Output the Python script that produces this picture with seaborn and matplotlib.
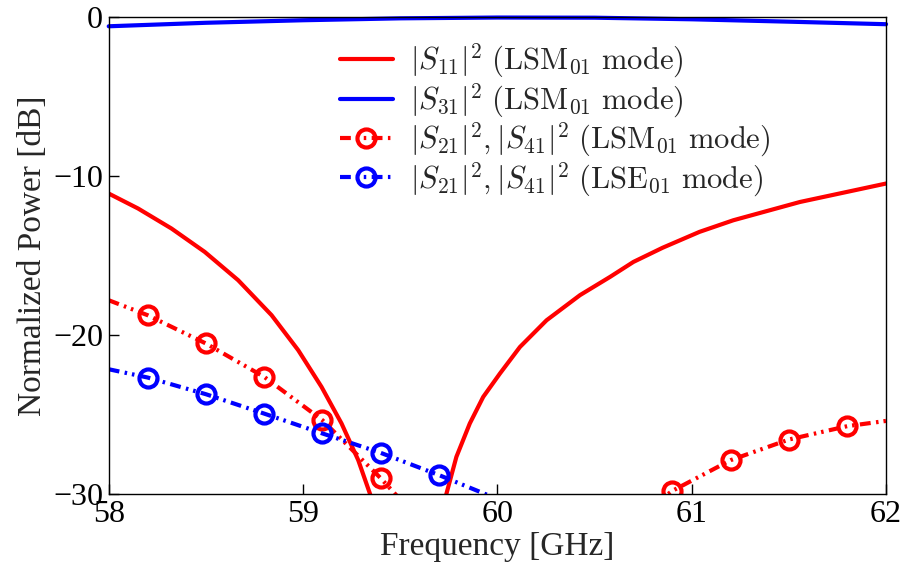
import numpy as np
import pandas as pd
import matplotlib
matplotlib.use("Agg")
import matplotlib.pyplot as plt
import seaborn as sns

# ---- data ----
s11_freq = [58.0, 58.151, 58.323, 58.494, 58.666, 58.838, 58.975, 59.095, 59.198, 59.284, 59.344,
            59.38, 59.46, 59.55, 59.64, 59.70,
            59.738, 59.789, 59.858, 59.927, 60.013, 60.116, 60.253, 60.425, 60.58, 60.70, 60.85,
            61.04, 61.214, 61.557, 62.0]
s11_db = [-11.09, -12.03, -13.29, -14.76, -16.54, -18.74, -20.94, -23.25, -25.55, -27.86, -29.96,
          -31.4, -37.0, -48.0, -36.0, -31.8,
          -29.96, -27.65, -25.55, -23.88, -22.41, -20.74, -19.06, -17.48, -16.33, -15.39, -14.5,
          -13.5, -12.77, -11.62, -10.46]

s31_freq = [58.0, 58.5, 59.0, 59.5, 60.0, 60.5, 61.0, 61.5, 62.0]
s31_db = [-0.57, -0.35, -0.19, -0.07, -0.02, -0.03, -0.13, -0.28, -0.44]

lsm_freq = [58.0, 58.2, 58.5, 58.8, 59.1, 59.4, 59.7, 60.0, 60.3, 60.6, 60.9, 61.2, 61.5, 61.8, 62.0]
lsm_db = [-17.8, -18.74, -20.52, -22.62, -25.35, -29.0, -33.0, -36.0, -35.0, -32.5,
          -29.79, -27.86, -26.56, -25.72, -25.39]

lse_freq = [58.0, 58.2, 58.5, 58.8, 59.1, 59.4, 59.7, 60.0]
lse_db = [-22.14, -22.66, -23.71, -24.93, -26.18, -27.4, -28.8, -30.3]

xticks = [58, 59, 60, 61, 62]
yticks = [-30, -20, -10, 0]

labels = [r"$|S_{11}|^2\ (\mathrm{LSM}_{01}\ \mathrm{mode})$",
          r"$|S_{31}|^2\ (\mathrm{LSM}_{01}\ \mathrm{mode})$",
          r"$|S_{21}|^2, |S_{41}|^2\ (\mathrm{LSM}_{01}\ \mathrm{mode})$",
          r"$|S_{21}|^2, |S_{41}|^2\ (\mathrm{LSE}_{01}\ \mathrm{mode})$"]

sns.set_theme(style="white")
plt.rcParams["font.family"] = ["Liberation Serif", "DejaVu Serif"]
plt.rcParams["mathtext.fontset"] = "cm"
plt.rcParams["axes.unicode_minus"] = True

fig = plt.figure(figsize=(9.06, 5.74), dpi=100)
ax = fig.add_axes([0.120, 0.139, 0.858, 0.831])

lw = 3.0
dashdotdot = (0, (2.6, 1.3, 0.6, 1.2, 0.6, 1.3))

sns.lineplot(x=s11_freq, y=s11_db, color="#ff0000", linewidth=lw, sort=False,
             label=labels[0], ax=ax)
sns.lineplot(x=s31_freq, y=s31_db, color="#0000ff", linewidth=lw, sort=False,
             label=labels[1], ax=ax, clip_on=False)
sns.lineplot(x=lsm_freq, y=lsm_db, color="#ff0000", linewidth=lw, sort=False,
             linestyle=dashdotdot, marker="o", markersize=13, markerfacecolor="none",
             markeredgecolor="#ff0000", markeredgewidth=3,
             markevery=list(range(1, len(lsm_freq) - 1)), label=labels[2], ax=ax)
sns.lineplot(x=lse_freq, y=lse_db, color="#0000ff", linewidth=lw, sort=False,
             linestyle=dashdotdot, marker="o", markersize=13, markerfacecolor="none",
             markeredgecolor="#0000ff", markeredgewidth=3,
             markevery=list(range(1, len(lse_freq) - 1)), label=labels[3], ax=ax)

ax.set_xlim(58, 62)
ax.set_ylim(-30, 0)
ax.set_xticks(xticks)
ax.set_yticks(yticks)
ax.set_xticklabels([str(t) for t in xticks])
ax.set_yticklabels([str(t).replace("-", "\u2212") for t in yticks])
ax.tick_params(direction="in", length=7, width=1, labelsize=23, colors="black",
               bottom=True, left=True, top=False, right=False, pad=4)
for sp in ax.spines.values():
    sp.set_color("black")
    sp.set_linewidth(1.0)
ax.set_xlabel("Frequency [GHz]", fontsize=24, labelpad=2)
ax.set_ylabel("Normalized Power [dB]", fontsize=24, labelpad=4)

leg = ax.legend(loc="upper left", bbox_to_anchor=(0.297, 0.948), frameon=False,
                fontsize=22, handlelength=1.75, handletextpad=0.55, labelspacing=0.03,
                borderaxespad=0.0, borderpad=0.0, numpoints=1)

fig.savefig("out.png", dpi=100, facecolor="white")
